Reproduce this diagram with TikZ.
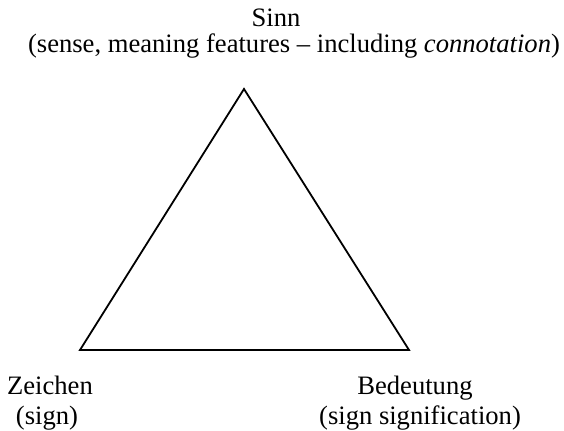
\documentclass[tikz,border=0pt]{standalone}
\usepackage{fontspec}
\setmainfont{Liberation Serif}
\usetikzlibrary{positioning}
\tikzset{
  corner/.style={font=\fontsize{13.3}{16}\selectfont,inner sep=0pt,anchor=base},
  side/.style={line width=.9pt,line join=miter}
}

\begin{document}
\begin{tikzpicture}[x=.5pt,y=-.5pt]
\useasboundingbox (0,0) rectangle (564,431);
\coordinate (S) at (244,89);
\coordinate (Z) at (80,350);
\coordinate (B) at (409,350);
\draw[side] (S)--(Z)--(B)--cycle;
\node[corner] (sinn) at (276,27) {Sinn};
\node[corner] (sinnx) at (294,53) {(sense, meaning features -- including \textit{connotation})};
\node[corner] (zei) at (50,395) {Zeichen};
\node[corner] (zeix) at (47,425) {(sign)};
\node[corner] (bed) at (415,395) {Bedeutung};
\node[corner] (bedx) at (420,425) {(sign signification)};
\end{tikzpicture}
\end{document}
